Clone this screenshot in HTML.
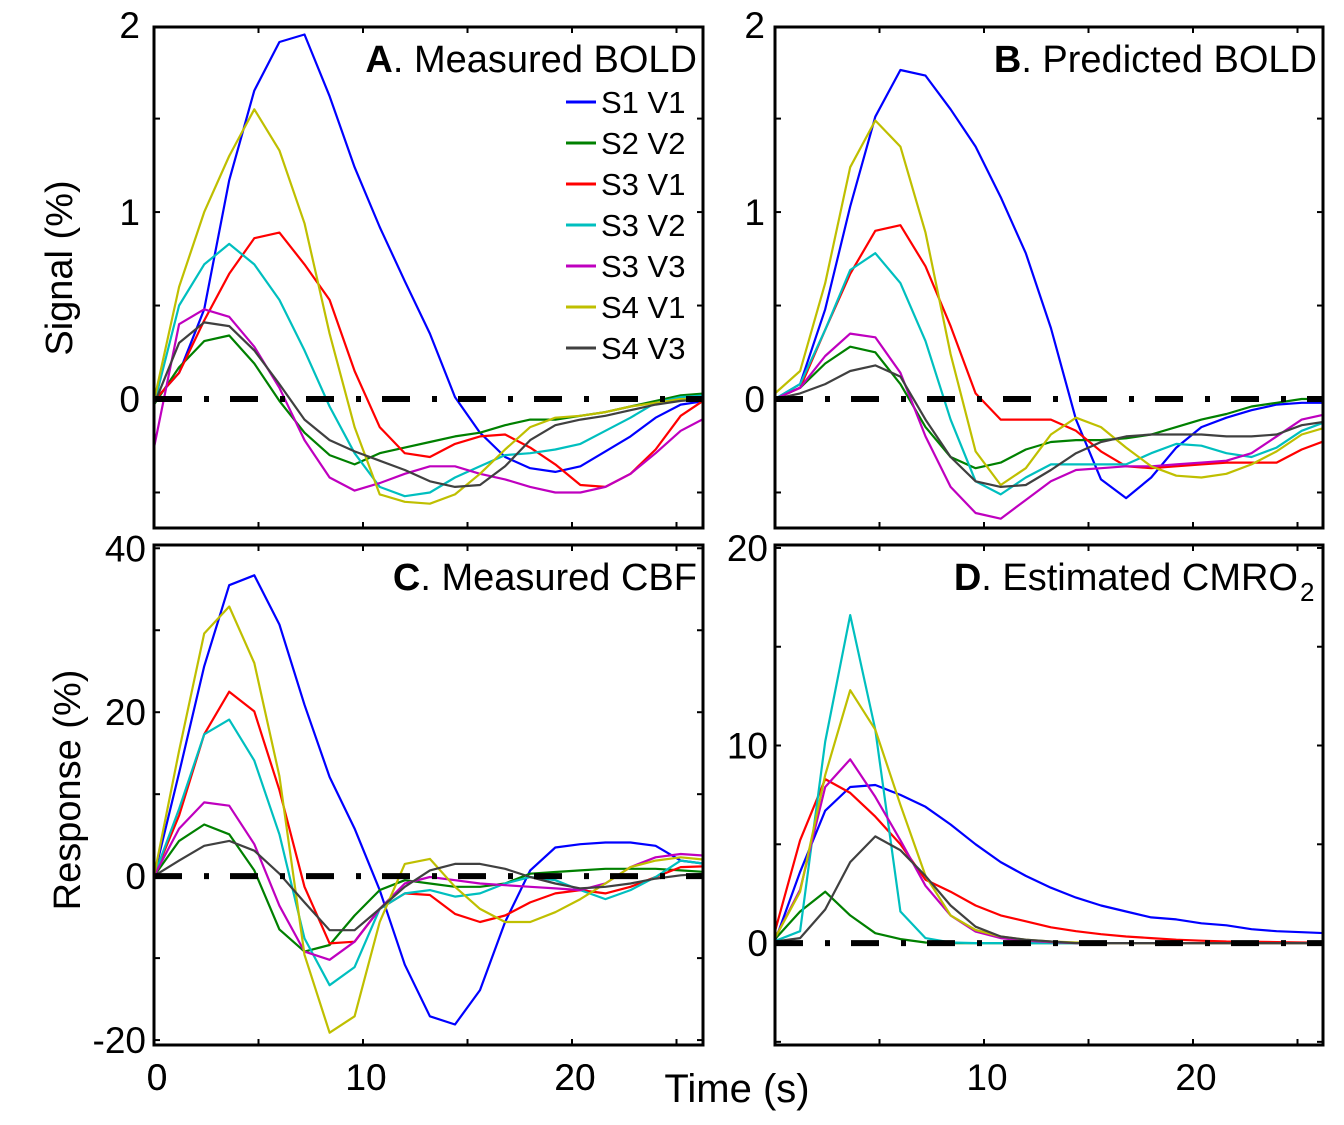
<!DOCTYPE html>
<html><head><meta charset="utf-8"><style>
html,body{margin:0;padding:0;background:#fff;}
svg{display:block;font-family:"Liberation Sans",sans-serif;}
</style></head><body>
<svg id="fig" width="1344" height="1125" viewBox="0 0 1344 1125">
<rect x="0" y="0" width="1344" height="1125" fill="#fff"/>
<text x="72" y="268" font-size="38" text-anchor="middle" transform="rotate(-90 72 268)">Signal (%)</text>
<text x="80" y="790" font-size="38" text-anchor="middle" transform="rotate(-90 80 790)">Response (%)</text>
<text x="737" y="1102" font-size="40" text-anchor="middle">Time (s)</text>
</svg>
<script>
const times = Array.from({length:23},(_, k)=>k*1.2);
const seriesNames = ["S1 V1","S2 V2","S3 V1","S3 V2","S3 V3","S4 V1","S4 V3"];
const seriesColors = ["#0000ff","#008000","#ff0000","#00bfbf","#bf00bf","#bfbf00","#404040"];

const boldMeasured = [
 [-0.01,0.14,0.48,1.17,1.65,1.91,1.95,1.62,1.24,0.92,0.63,0.35,0.01,-0.18,-0.31,-0.37,-0.39,-0.36,-0.28,-0.20,-0.10,-0.03,-0.01],
 [-0.03,0.17,0.31,0.34,0.19,-0.01,-0.18,-0.30,-0.35,-0.29,-0.26,-0.23,-0.20,-0.18,-0.14,-0.11,-0.11,-0.09,-0.07,-0.04,-0.01,0.02,0.03],
 [-0.01,0.14,0.42,0.67,0.86,0.89,0.72,0.53,0.15,-0.15,-0.29,-0.31,-0.24,-0.20,-0.19,-0.26,-0.35,-0.46,-0.47,-0.40,-0.27,-0.09,0],
 [-0.03,0.50,0.72,0.83,0.72,0.53,0.26,-0.04,-0.29,-0.47,-0.52,-0.50,-0.42,-0.36,-0.30,-0.29,-0.27,-0.24,-0.17,-0.10,-0.02,0.01,0.02],
 [-0.26,0.40,0.48,0.44,0.28,0.06,-0.22,-0.42,-0.49,-0.45,-0.40,-0.36,-0.36,-0.40,-0.43,-0.47,-0.50,-0.50,-0.47,-0.40,-0.29,-0.17,-0.10],
 [-0.01,0.60,1.00,1.30,1.55,1.33,0.94,0.35,-0.15,-0.51,-0.55,-0.56,-0.51,-0.40,-0.27,-0.15,-0.10,-0.09,-0.07,-0.04,-0.02,0,0],
 [-0.03,0.30,0.41,0.39,0.26,0.08,-0.11,-0.22,-0.28,-0.33,-0.38,-0.44,-0.47,-0.46,-0.36,-0.22,-0.14,-0.11,-0.09,-0.06,-0.03,-0.01,0]
];
const boldPredicted = [
 [0,0.08,0.48,1.03,1.51,1.76,1.73,1.55,1.35,1.08,0.78,0.38,-0.11,-0.43,-0.53,-0.42,-0.26,-0.15,-0.10,-0.06,-0.03,-0.02,-0.02],
 [0,0.06,0.19,0.28,0.25,0.08,-0.15,-0.31,-0.37,-0.34,-0.27,-0.23,-0.22,-0.22,-0.21,-0.19,-0.15,-0.11,-0.08,-0.04,-0.02,0,0],
 [0,0.06,0.37,0.67,0.90,0.93,0.71,0.39,0.03,-0.11,-0.11,-0.11,-0.17,-0.28,-0.36,-0.37,-0.36,-0.35,-0.34,-0.34,-0.34,-0.27,-0.22],
 [0,0.08,0.37,0.69,0.78,0.62,0.31,-0.11,-0.44,-0.51,-0.42,-0.35,-0.35,-0.35,-0.35,-0.29,-0.24,-0.25,-0.29,-0.31,-0.26,-0.17,-0.12],
 [0,0.06,0.23,0.35,0.33,0.14,-0.20,-0.47,-0.61,-0.64,-0.54,-0.44,-0.38,-0.37,-0.36,-0.36,-0.35,-0.34,-0.33,-0.29,-0.20,-0.11,-0.08],
 [0.03,0.15,0.62,1.24,1.49,1.35,0.89,0.24,-0.28,-0.46,-0.37,-0.19,-0.10,-0.15,-0.26,-0.36,-0.41,-0.42,-0.40,-0.35,-0.28,-0.19,-0.15],
 [0,0.03,0.08,0.15,0.18,0.12,-0.11,-0.31,-0.44,-0.47,-0.46,-0.38,-0.29,-0.23,-0.20,-0.19,-0.19,-0.19,-0.20,-0.20,-0.19,-0.14,-0.12]
];
const cbfMeasured = [
 [0,12.6,25.6,35.5,36.7,30.7,20.9,12.1,5.8,-1.7,-10.8,-17.1,-18.1,-13.9,-5.6,0.7,3.5,3.9,4.1,4.1,3.7,1.9,1.5],
 [0,4.3,6.3,5.1,0.7,-6.5,-9.2,-8.4,-4.8,-1.7,-0.5,-0.9,-1.3,-1.3,-0.9,0.3,0.5,0.7,0.9,0.9,0.9,0.7,0.5],
 [0,7.4,17.3,22.5,20.1,10.5,-1.3,-8.2,-8.0,-4.0,-2.1,-2.3,-4.6,-5.6,-4.8,-3.2,-2.1,-1.7,-2.1,-1.3,-0.1,1.1,1.2],
 [0,8.2,17.3,19.1,14.1,5.1,-7.6,-13.3,-11.1,-4.0,-2.1,-1.7,-2.5,-2.1,-0.9,-0.1,-0.5,-1.7,-2.8,-1.7,-0.1,1.9,1.5],
 [0,5.8,9.0,8.6,3.9,-3.6,-9.2,-10.2,-8.0,-4.0,-0.9,-0.1,-0.5,-0.9,-1.1,-1.3,-1.5,-1.7,-0.9,1.1,2.3,2.7,2.5],
 [0,15.3,29.6,32.9,26.0,12.2,-9.6,-19.1,-17.1,-5.6,1.5,2.1,-1.3,-4.0,-5.6,-5.6,-4.4,-2.8,-0.9,1.1,1.9,2.3,2.0],
 [0,1.9,3.7,4.3,3.1,0.3,-3.2,-6.6,-6.6,-4.0,-1.3,0.7,1.5,1.5,0.9,-0.1,-0.9,-1.5,-1.3,-0.9,-0.3,0.1,0.3]
];
const cmro2Estimated = [
 [0.1,3.6,6.7,7.9,8.0,7.5,6.9,6.0,5.0,4.1,3.4,2.8,2.3,1.9,1.6,1.3,1.2,1.0,0.9,0.7,0.6,0.55,0.5],
 [0.2,1.6,2.6,1.4,0.5,0.2,0.03,0,0,0,0,0,0,0,0,0,0,0,0,0,0,0,0],
 [0.6,5.2,8.3,7.6,6.4,5.0,3.2,2.6,1.9,1.4,1.1,0.8,0.6,0.45,0.33,0.25,0.17,0.12,0.08,0.07,0.05,0.03,0.02],
 [0.1,0.6,10.2,16.6,10.8,1.6,0.25,0.03,0,0,0,0,0,0,0,0,0,0,0,0,0,0,0],
 [0.25,2.7,7.9,9.3,7.4,5.2,2.9,1.4,0.58,0.25,0.12,0.05,0,0,0,0,0,0,0,0,0,0,0],
 [0.25,2.6,8.5,12.8,10.8,7.0,3.4,1.4,0.66,0.33,0.17,0.08,0.03,0,0,0,0,0,0,0,0,0,0],
 [0.08,0.25,1.7,4.1,5.4,4.7,3.4,1.9,0.83,0.33,0.17,0.08,0,0,0,0,0,0,0,0,0,0,0]
];
const yTicksAB = [2,1,0];
const yTicksC = [40,20,0,-20];
const yTicksD = [20,10,0];
const xTickLabels = [0,10,20];

const NS="http://www.w3.org/2000/svg";
const svg=document.getElementById('fig');
function mk(tag,attrs,parent){const e=document.createElementNS(NS,tag);for(const k in attrs)e.setAttribute(k,attrs[k]);(parent||svg).appendChild(e);return e;}

const panels=[
 {id:'a',x0:154,x1:703,y0:27,y1:528,t0px:154,vmin:-0.69,vmax:1.99,data:boldMeasured,ticks:yTicksAB,minorStep:0.5,labelX:140,title:'Measured BOLD',letter:'A',xLabelShow:true,legend:true},
 {id:'b',x0:775,x1:1323,y0:27,y1:528,t0px:775,vmin:-0.69,vmax:1.99,data:boldPredicted,ticks:yTicksAB,minorStep:0.5,labelX:765,title:'Predicted BOLD',letter:'B',xLabelShow:false},
 {id:'c',x0:154,x1:703,y0:545,y1:1045,t0px:154,vmin:-20.6,vmax:40.4,data:cbfMeasured,ticks:yTicksC,minorStep:10,labelX:146,title:'Measured CBF',letter:'C',xLabelShow:true,xl:[0,10,20]},
 {id:'d',x0:775,x1:1323,y0:545,y1:1045,t0px:775,vmin:-5.16,vmax:20.15,data:cmro2Estimated,ticks:yTicksD,minorStep:5,labelX:768,title:'Estimated CMRO',letter:'D',xLabelShow:true,xl:[10,20],sub:true}
];
const PXS=20.9;
panels.forEach(p=>{
 const g=mk('g',{});
 
 
 const xs=t=>p.t0px+t*PXS;
 const ys=v=>p.y1-(v-p.vmin)/(p.vmax-p.vmin)*(p.y1-p.y0);
 const cp=mk('clipPath',{id:'clip'+p.id},g);
 mk('rect',{x:p.x0,y:p.y0,width:p.x1-p.x0,height:p.y1-p.y0},cp);
 for(let t=5;p.t0px+t*PXS<p.x1-2;t+=5){
  const x=xs(t);
  mk('line',{x1:x,y1:p.y0,x2:x,y2:p.y0+6,stroke:'#000','stroke-width':2},g);
  mk('line',{x1:x,y1:p.y1,x2:x,y2:p.y1-6,stroke:'#000','stroke-width':2},g);
 }
 for(let v=Math.ceil(p.vmin/p.minorStep)*p.minorStep;v<=p.vmax;v+=p.minorStep){
  const y=ys(v);
  mk('line',{x1:p.x0,y1:y,x2:p.x0+6,y2:y,stroke:'#000','stroke-width':2},g);
  mk('line',{x1:p.x1,y1:y,x2:p.x1-6,y2:y,stroke:'#000','stroke-width':2},g);
 }
 p.ticks.forEach(v=>{
  const tx=mk('text',{x:p.labelX,y:ys(v)+13,'font-size':37,'text-anchor':'end'},g);
  tx.textContent=String(v);
  
  
 });
 if(p.xLabelShow){
  (p.xl||xTickLabels).forEach(t=>{
   const tx=mk('text',{x:xs(t)+3,y:1090,'font-size':37,'text-anchor':'middle'},g);
   tx.textContent=String(t);
   
   
  });
 }
 const sg=mk('g',{'clip-path':'url(#clip'+p.id+')'},g);
 p.data.forEach((vals,si)=>{
  let d='';
  vals.forEach((v,k)=>{d+=(k?'L':'M')+xs(times[k]).toFixed(1)+','+ys(v).toFixed(1);});
  const path=mk('path',{d:d,fill:'none',stroke:seriesColors[si],'stroke-width':2.2,'stroke-linejoin':'round'},sg);
  
  
 });
 const zl=mk('line',{x1:p.x0,y1:ys(0),x2:p.x1,y2:ys(0),stroke:'#000','stroke-width':6,'stroke-dasharray':'28 22 5 21'},g);
 
 
 const fr=mk('rect',{x:p.x0,y:p.y0,width:p.x1-p.x0,height:p.y1-p.y0,fill:'none',stroke:'#000','stroke-width':3},g);
 
 
 const ti=mk('text',{x:p.sub?1298:p.x1-6,y:p.y0+45,'font-size':38,'text-anchor':'end'},g);
 const b=mk('tspan',{'font-weight':'bold'},ti);b.textContent=p.letter;
 const r=mk('tspan',{},ti);r.textContent='. '+p.title;
 
 
 if(p.sub){const s=mk('text',{x:1300,y:p.y0+56,'font-size':26},g);s.textContent='2';
  
  }
 if(p.legend){
  seriesNames.forEach((n,i)=>{
   const y=102+i*41;
   const lg=mk('g',{},g);
   
   
   mk('line',{x1:566,y1:y,x2:596,y2:y,stroke:seriesColors[i],'stroke-width':3},lg);
   const t=mk('text',{x:601,y:y+11,'font-size':31},lg);t.textContent=n;
  });
 }
});
</script>
</body></html>
